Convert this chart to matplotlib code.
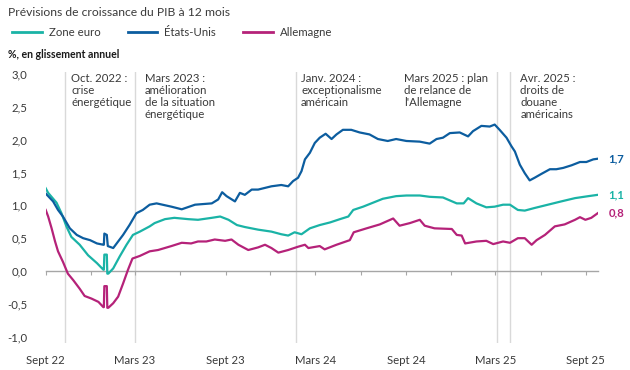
import matplotlib
matplotlib.use("Agg")
import matplotlib.pyplot as plt
import matplotlib.transforms as mtransforms
from matplotlib.lines import Line2D
import pandas as pd

plt.rcParams['font.family'] = ['Lato', 'DejaVu Sans']

# ---------------- data ----------------
us_dates = ["2022-09-01", "2022-09-16", "2022-09-26", "2022-10-06", "2022-10-20", "2022-11-03",
            "2022-11-16", "2022-11-30", "2022-12-14", "2022-12-27", "2022-12-28", "2022-12-29",
            "2023-01-03", "2023-01-05", "2023-01-16", "2023-01-26", "2023-02-05", "2023-02-18",
            "2023-03-04", "2023-03-17", "2023-03-31", "2023-04-14", "2023-05-14", "2023-06-04",
            "2023-07-01", "2023-08-04", "2023-08-17", "2023-08-25", "2023-09-03", "2023-09-20",
            "2023-09-30", "2023-10-10", "2023-10-24", "2023-11-06", "2023-12-03", "2023-12-23",
            "2024-01-06", "2024-01-16", "2024-01-26", "2024-02-02", "2024-02-09", "2024-02-19",
            "2024-02-29", "2024-03-10", "2024-03-22", "2024-04-03", "2024-04-13", "2024-04-26",
            "2024-05-13", "2024-05-30", "2024-06-19", "2024-07-06", "2024-07-26", "2024-08-12",
            "2024-09-02", "2024-09-29", "2024-10-19", "2024-11-02", "2024-11-15", "2024-11-29",
            "2024-12-19", "2025-01-05", "2025-01-15", "2025-02-01", "2025-02-18", "2025-02-28",
            "2025-03-10", "2025-03-24", "2025-04-03", "2025-04-10", "2025-04-20", "2025-04-30",
            "2025-05-10", "2025-05-20", "2025-06-03", "2025-06-20", "2025-07-03", "2025-07-17",
            "2025-08-03", "2025-08-20", "2025-09-02", "2025-09-16", "2025-09-25"]
us_vals = [1.18, 1.06, 0.93, 0.83, 0.65, 0.55,
           0.50, 0.47, 0.42, 0.40, 0.40, 0.57,
           0.55, 0.38, 0.35, 0.45, 0.55, 0.70,
           0.88, 0.93, 1.01, 1.03, 0.98, 0.94,
           1.01, 1.03, 1.09, 1.20, 1.14, 1.06,
           1.19, 1.16, 1.24, 1.24, 1.29, 1.31,
           1.29, 1.37, 1.42, 1.52, 1.70, 1.80,
           1.95, 2.03, 2.09, 2.01, 2.08, 2.15,
           2.15, 2.11, 2.08, 2.01, 1.98, 2.01,
           1.98, 1.97, 1.94, 2.01, 2.03, 2.10,
           2.11, 2.05, 2.13, 2.21, 2.20, 2.23,
           2.15, 2.03, 1.90, 1.82, 1.62, 1.49,
           1.38, 1.42, 1.48, 1.55, 1.55, 1.57,
           1.61, 1.66, 1.66, 1.70, 1.71]

eu_dates = ["2022-09-01", "2022-09-06", "2022-09-23", "2022-10-03", "2022-10-13", "2022-10-23",
            "2022-11-09", "2022-11-26", "2022-12-14", "2022-12-27", "2022-12-28", "2022-12-29",
            "2023-01-03", "2023-01-04", "2023-01-06", "2023-01-16", "2023-01-29", "2023-02-12",
            "2023-02-25", "2023-03-11", "2023-03-31", "2023-04-10", "2023-05-01", "2023-05-20",
            "2023-06-17", "2023-07-07", "2023-08-04", "2023-08-21", "2023-09-07", "2023-09-24",
            "2023-10-10", "2023-11-06", "2023-12-03", "2023-12-23", "2024-01-06", "2024-01-19",
            "2024-02-02", "2024-02-19", "2024-03-10", "2024-03-31", "2024-04-20", "2024-05-07",
            "2024-05-17", "2024-06-06", "2024-06-26", "2024-07-16", "2024-08-12", "2024-09-02",
            "2024-09-29", "2024-10-19", "2024-11-15", "2024-12-13", "2024-12-27", "2025-01-05",
            "2025-01-22", "2025-02-11", "2025-02-28", "2025-03-17", "2025-03-31", "2025-04-16",
            "2025-04-30", "2025-05-20", "2025-06-16", "2025-07-13", "2025-08-10", "2025-09-06",
            "2025-09-25"]
eu_vals = [1.26, 1.19, 1.04, 0.88, 0.68, 0.52,
           0.40, 0.24, 0.12, 0.02, 0.02, 0.25,
           0.25, -0.04, -0.04, 0.04, 0.22, 0.40,
           0.55, 0.60, 0.68, 0.73, 0.79, 0.81,
           0.79, 0.78, 0.81, 0.83, 0.78, 0.70,
           0.67, 0.63, 0.60, 0.56, 0.54, 0.59,
           0.56, 0.65, 0.70, 0.74, 0.79, 0.83,
           0.93, 0.98, 1.04, 1.10, 1.14, 1.15,
           1.15, 1.13, 1.12, 1.03, 1.03, 1.11,
           1.03, 0.97, 0.98, 1.01, 1.01, 0.93,
           0.92, 0.96, 1.01, 1.06, 1.11, 1.14,
           1.16]

de_dates = ["2022-09-01", "2022-09-06", "2022-09-13", "2022-09-20", "2022-09-26", "2022-10-06",
            "2022-10-16", "2022-10-27", "2022-11-09", "2022-11-19", "2022-12-03", "2022-12-17",
            "2022-12-27", "2022-12-28", "2022-12-29", "2023-01-03", "2023-01-04", "2023-01-06",
            "2023-01-16", "2023-01-26", "2023-02-05", "2023-02-15", "2023-02-24", "2023-03-11",
            "2023-03-31", "2023-04-17", "2023-05-14", "2023-06-04", "2023-06-23", "2023-07-07",
            "2023-07-24", "2023-08-10", "2023-08-31", "2023-09-13", "2023-09-27", "2023-10-17",
            "2023-11-06", "2023-11-20", "2023-12-03", "2023-12-17", "2024-01-06", "2024-01-26",
            "2024-02-09", "2024-02-16", "2024-03-10", "2024-03-20", "2024-04-13", "2024-05-10",
            "2024-05-18", "2024-06-13", "2024-07-10", "2024-08-06", "2024-08-19", "2024-09-09",
            "2024-09-29", "2024-10-09", "2024-10-29", "2024-12-03", "2024-12-13", "2024-12-23",
            "2024-12-30", "2025-01-22", "2025-02-11", "2025-02-25", "2025-03-17", "2025-03-31",
            "2025-04-16", "2025-04-30", "2025-05-14", "2025-05-24", "2025-06-10", "2025-06-30",
            "2025-07-20", "2025-08-10", "2025-08-20", "2025-08-31", "2025-09-12", "2025-09-25"]
de_vals = [0.93, 0.83, 0.65, 0.45, 0.30, 0.14,
           -0.04, -0.14, -0.27, -0.38, -0.42, -0.47,
           -0.55, -0.55, -0.23, -0.23, -0.56, -0.56,
           -0.49, -0.39, -0.19, 0.02, 0.19, 0.23,
           0.30, 0.32, 0.38, 0.43, 0.42, 0.45,
           0.45, 0.48, 0.46, 0.48, 0.40, 0.32,
           0.36, 0.40, 0.35, 0.28, 0.32, 0.37,
           0.40, 0.35, 0.38, 0.33, 0.40, 0.47,
           0.59, 0.65, 0.71, 0.80, 0.69, 0.73,
           0.78, 0.69, 0.65, 0.64, 0.55, 0.54,
           0.42, 0.45, 0.46, 0.41, 0.45, 0.43,
           0.50, 0.50, 0.40, 0.47, 0.55, 0.68,
           0.71, 0.78, 0.82, 0.78, 0.81, 0.88]

series_names = ["Zone euro", "États-Unis", "Allemagne"]
end_labels = ["1,1", "1,7", "0,8"]

yticks = [3.0, 2.5, 2.0, 1.5, 1.0, 0.5, 0.0, -0.5, -1.0]
ytick_labels = ["3,0", "2,5", "2,0", "1,5", "1,0", "0,5", "0,0", "-0,5", "-1,0"]

xtick_dates = ["2022-09-01", "2023-03-01", "2023-09-01", "2024-03-01", "2024-09-01", "2025-03-01", "2025-09-01"]
xtick_labels = ["Sept 22", "Mars 23", "Sept 23", "Mars 24", "Sept 24", "Mars 25", "Sept 25"]

event_dates = ["2022-10-11", "2023-03-01", "2024-01-22", "2025-03-04", "2025-04-01"]
event_texts = ["Oct. 2022 :\ncrise\nénergétique",
               "Mars 2023 :\namélioration\nde la situation\nénergétique",
               "Janv. 2024 :\nexceptionalisme\naméricain",
               "Mars 2025 : plan\nde relance de\nl'Allemagne",
               "Avr. 2025 :\ndroits de\ndouane\naméricains"]

# ---------------- styling ----------------
colors = ["#1ab3a6", "#0c5d9f", "#b52279"]
text_color = "#3a3a3a"
grid_color = "#d9d9d9"
PT = 72 / 100  # points per pixel

fig = plt.figure(figsize=(6.3, 3.7), dpi=100)
W, H = 630, 370
ax = fig.add_axes([45.7 / W, 1 - 343 / H, (597.7 - 45.7) / W, (343 - 71.7) / H])

x_start = pd.Timestamp("2022-09-01")
x_end = pd.Timestamp("2025-09-25")
ax.set_xlim(x_start, x_end)
ax.set_ylim(-1.0 - (343 - 336.7) / 65.67, 3.0 + (74 - 71.7) / 65.67)

for s in ["top", "right", "left"]:
    ax.spines[s].set_visible(False)
ax.spines["bottom"].set_position(("data", 0))
ax.spines["bottom"].set_color("#a6a6a6")
ax.spines["bottom"].set_linewidth(1.0)

quarter_ticks = pd.date_range("2022-09-01", "2025-09-01", freq="3MS")
ax.set_xticks(quarter_ticks)
ax.tick_params(axis="x", direction="out", length=3, width=0.8, color="#a6a6a6", labelbottom=False)

ax.set_yticks(yticks)
ax.set_yticklabels(ytick_labels)
ax.tick_params(axis="y", length=0, pad=18.7 * PT, labelsize=8.2, labelcolor=text_color)
for lbl in ax.get_yticklabels():
    lbl.set_horizontalalignment("right")

# x labels
trans_x = mtransforms.blended_transform_factory(ax.transData, ax.transAxes)
for d, lab in zip(xtick_dates, xtick_labels):
    ax.text(pd.Timestamp(d), -(360 - 343) / (343 - 71.7), lab, transform=trans_x,
            ha="center", va="center", fontsize=8.2, color=text_color)

# event lines and annotations
event_offsets = [6, 10, 5, -9, 10]
for d, txt, off in zip(event_dates, event_texts, event_offsets):
    dt = pd.Timestamp(d)
    ax.axvline(dt, color=grid_color, lw=1.0, zorder=0)
    tr = mtransforms.offset_copy(trans_x, fig=fig, x=off * PT, y=-1.5 * PT, units="points")
    ha = "left" if off > 0 else "right"
    ax.text(dt, 1.0, txt, transform=tr, ha=ha, va="top", multialignment="left",
            fontsize=8.2, color=text_color, linespacing=1.1)

# series
all_dates = [eu_dates, us_dates, de_dates]
all_vals = [eu_vals, us_vals, de_vals]
for dts, vals, c, lab in zip(all_dates, all_vals, colors, end_labels):
    dts = pd.to_datetime(dts)
    ax.plot(dts, vals, color=c, lw=1.6, zorder=3, solid_joinstyle="round")
    tr = mtransforms.offset_copy(ax.transData, fig=fig, x=11 * PT, y=0, units="points")
    ax.text(dts[-1], vals[-1], lab, transform=tr, ha="left", va="center",
            fontsize=8.2, color=c, fontweight="bold")

# title, legend, subtitle
fig.text(8 / W, 1 - 12 / H, "Prévisions de croissance du PIB à 12 mois", ha="left", va="center",
         fontsize=8.7, color=text_color)
handles = [Line2D([0], [0], color=c, lw=2) for c in colors]
leg = fig.legend(handles, series_names, loc="center left", bbox_to_anchor=(2 / W, 1 - 32 / H),
                 ncol=3, frameon=False, fontsize=8.2, handlelength=2.6, handletextpad=0.6,
                 columnspacing=2.4, labelcolor=text_color)
fig.text(8 / W, 1 - 55 / H, "%, en glissement annuel", ha="left", va="center",
         fontsize=7.6, fontweight="bold", color="#1a1a1a")

fig.savefig("out.png", dpi=100)
